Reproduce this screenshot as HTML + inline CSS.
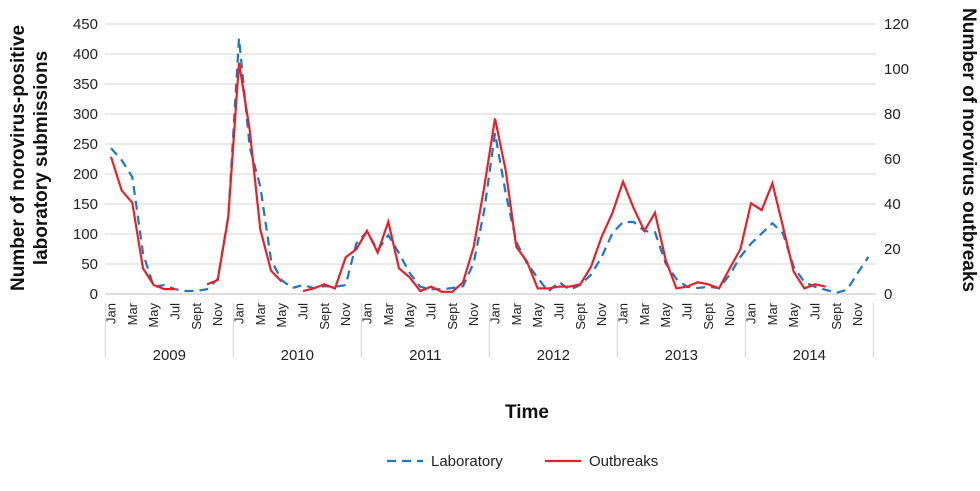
<!DOCTYPE html>
<html><head><meta charset="utf-8"><style>
body{margin:0;background:#fff;font-family:"Liberation Sans",sans-serif}
svg{display:block}
</style></head><body>
<svg id="chart" width="980" height="491" viewBox="0 0 980 491" xmlns="http://www.w3.org/2000/svg">
<g id="grid"></g>
<g id="leftTicks"></g>
<g id="rightTicks"></g>
<g id="xaxis"></g>
<g id="series"></g>
<text transform="translate(24,158) rotate(-90)" text-anchor="middle" font-size="19" font-weight="bold" fill="#111"><tspan x="0" dy="0">Number of norovirus-positive</tspan><tspan x="0" dy="23">laboratory submissions</tspan></text>
<text transform="translate(963,150) rotate(90)" text-anchor="middle" font-size="19" font-weight="bold" fill="#111">Number of norovirus outbreaks</text>
<text x="527" y="418" text-anchor="middle" font-size="19" font-weight="bold" fill="#111">Time</text>
<g>
<g><line x1="387" y1="461" x2="423" y2="461" stroke="#1a78c2" stroke-width="2.2" stroke-dasharray="9,6"/><text x="431" y="466" font-size="15" fill="#222">Laboratory</text></g>
<g><line x1="545" y1="461" x2="581" y2="461" stroke="#e8202a" stroke-width="2.2"/><text x="589" y="466" font-size="15" fill="#222">Outbreaks</text></g>
</g>
</svg>
<script>
const years=["2009","2010","2011","2012","2013","2014"];
const monthLabels=["Jan","Mar","May","Jul","Sept","Nov"];
const leftTicks=[0,50,100,150,200,250,300,350,400,450];
const rightTicks=[0,20,40,60,80,100,120];
const laboratory=[243,223,195,68,12,15,8,5,5,8,25,129,
426,245,179,57,23,10,15,10,13,12,15,84,
104,73,98,68,35,12,8,8,10,13,52,140,
268,168,87,51,27,4,20,7,15,32,62,101,
120,120,105,103,51,25,12,10,12,10,32,62,
84,101,118,101,45,20,12,7,2,7,35,62];
const outbreaks=[61,46,40.6,11.4,4,2.2,2.2,null,null,4.3,6.2,34.4,
102.8,72.9,28.7,10.4,5.5,null,1.3,2.5,4.3,2.5,16.3,19.9,
28.1,18.4,32.1,11.4,7.4,1.3,3.3,1,1,5.2,21,47.7,
78,55,21,14.4,2.5,2.5,3.3,3.3,4.3,12.1,25.5,35.9,
49.9,38.1,28.1,36.1,15.1,2.5,3.3,5.2,4.3,2.5,11.4,19.9,
40.3,37.3,49.2,29.9,9.9,2.5,4.3,3.3,null,null,null,null];
const NS="http://www.w3.org/2000/svg";
const X0=111,DX=10.667,Y0=294,YT=24;
const xs=i=>X0+i*DX;
const yl=v=>Y0-(v/450)*(Y0-YT);
const yr=v=>Y0-(v/120)*(Y0-YT);
function mk(tag,attrs,parent){const e=document.createElementNS(NS,tag);for(const k in attrs)e.setAttribute(k,attrs[k]);parent.appendChild(e);return e;}
const grid=document.getElementById('grid'),lt=document.getElementById('leftTicks'),rt=document.getElementById('rightTicks'),xa=document.getElementById('xaxis'),se=document.getElementById('series');
leftTicks.forEach(v=>{
 const l=mk('line',{x1:105,x2:876,y1:yl(v),y2:yl(v),stroke:v===0?'#d4d4d4':'#e3e3e3','stroke-width':1.5},grid);
 
 
 const t=mk('text',{x:98,y:yl(v)+5,'text-anchor':'end','font-size':15,fill:'#222'},lt);
 t.textContent=v;
 
 
});
rightTicks.forEach(v=>{
 const t=mk('text',{x:884,y:yr(v)+5,'text-anchor':'start','font-size':15,fill:'#222'},rt);
 t.textContent=v;
 
 
});
for(let y=0;y<=years.length;y++){
 const x=X0-5.7+y*12*DX;
 const s=mk('line',{x1:x,x2:x,y1:303,y2:357,stroke:'#d4d4d4','stroke-width':1},xa);
 
 
}
years.forEach((yr_,y)=>{
 const t=mk('text',{x:X0-5.7+(y+0.5)*12*DX,y:360,'text-anchor':'middle','font-size':15,fill:'#222'},xa);
 t.textContent=yr_;
 
 
 monthLabels.forEach((m,k)=>{
  const x=xs(y*12+k*2)+4.5;
  const mt=mk('text',{transform:`translate(${x},303) rotate(-90)`,'text-anchor':'end','font-size':13,fill:'#222'},xa);
  mt.textContent=m;
  
  
 });
});
function pathOf(arr,yf){let d='',pen=false;arr.forEach((v,i)=>{if(v===null||v===undefined){pen=false;return;}d+=(pen?'L':'M')+xs(i).toFixed(1)+','+yf(v).toFixed(1);pen=true;});return d;}
const lab=mk('path',{d:pathOf(laboratory,yl),fill:'none',stroke:'#1a78c2','stroke-width':2.2,'stroke-dasharray':'9,6'},se);


const ob=mk('path',{d:pathOf(outbreaks,yr),fill:'none',stroke:'#e8202a','stroke-width':2.2,'stroke-linejoin':'miter'},se);


</script>
</body></html>
